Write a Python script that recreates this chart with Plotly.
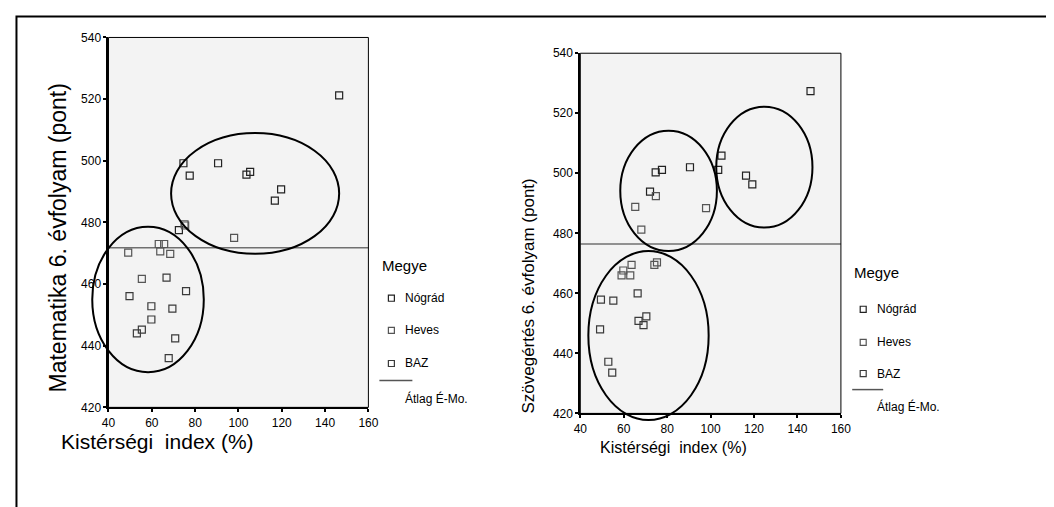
import plotly.graph_objects as go

# ---------------- data ----------------
counties = ["Nógrád", "Heves", "BAZ"]

# Plot 1: Matematika 6. évfolyam vs Kistérségi index
math_x_nograd = [146.5, 74.6, 77.5, 90.6, 103.7, 105.4, 119.7, 116.8, 72.5]
math_y_nograd = [521.2, 499.2, 495.2, 499.2, 495.5, 496.4, 490.7, 487.1, 477.5]
math_x_heves = [75.1, 75.4, 98.0, 49.1, 63.2, 65.7, 63.9, 68.5, 55.4]
math_y_heves = [479.4, 479.0, 475.0, 470.2, 473.0, 473.0, 470.6, 469.8, 461.7]
math_x_baz = [66.8, 49.7, 75.8, 59.8, 69.5, 59.8, 53.1, 55.4, 70.8, 67.8]
math_y_baz = [462.1, 456.1, 457.7, 452.8, 452.0, 448.5, 444.0, 445.2, 442.4, 436.0]
math_avg = 471.8

# Plot 2: Szövegértés 6. évfolyam vs Kistérségi index
read_x_nograd = [146.0, 105.0, 103.5, 90.5, 77.6, 74.7, 116.3, 119.2, 72.1]
read_y_nograd = [527.4, 505.9, 501.1, 502.0, 501.1, 500.3, 499.2, 496.3, 493.9]
read_x_heves = [74.8, 65.3, 97.9, 68.1, 63.6, 59.8, 59.0, 63.0, 74.1, 75.3]
read_y_heves = [492.4, 488.8, 488.4, 481.2, 469.5, 467.6, 466.0, 466.0, 469.5, 470.3]
read_x_baz = [66.4, 49.5, 55.2, 70.4, 66.8, 69.1, 49.1, 52.9, 54.7]
read_y_baz = [460.0, 457.9, 457.6, 452.3, 450.8, 449.4, 448.0, 437.2, 433.6]
read_avg = 476.4

x_ticks = [40, 60, 80, 100, 120, 140, 160]
y_ticks = [420, 440, 460, 480, 500, 520, 540]
x_range = [40, 160]
y_range = [420, 540]

# ellipses (x0, x1, y0, y1) in data units
math_ellipses = [(32.5, 84.0, 431.4, 478.6), (68.9, 146.5, 469.8, 509.0)]
read_ellipses = [(58.4, 102.9, 474.1, 514.2), (102.6, 146.9, 481.9, 522.2), (43.7, 99.1, 417.8, 474.1)]

legend_items = counties + ["Átlag É-Mo."]

# ---------------- figure ----------------
W, H = 1054, 507
FONT = "Liberation Sans, Arial, sans-serif"
marker_colors = {"Nógrád": "#222222", "Heves": "#555555", "BAZ": "#3a3a3a"}

fig = go.Figure()

def add_series(xs, ys, name, xa, ya):
    fig.add_trace(go.Scatter(
        x=xs, y=ys, mode="markers", name=name, showlegend=False,
        xaxis=xa, yaxis=ya,
        marker=dict(symbol="square-open", size=7, color=marker_colors[name],
                    line=dict(width=1.2, color=marker_colors[name])),
        cliponaxis=False,
    ))

add_series(math_x_nograd, math_y_nograd, "Nógrád", "x", "y")
add_series(math_x_heves, math_y_heves, "Heves", "x", "y")
add_series(math_x_baz, math_y_baz, "BAZ", "x", "y")
add_series(read_x_nograd, read_y_nograd, "Nógrád", "x2", "y2")
add_series(read_x_heves, read_y_heves, "Heves", "x2", "y2")
add_series(read_x_baz, read_y_baz, "BAZ", "x2", "y2")

# map target picture pixels to figure paper coordinates (compensates page offset/scale)
def px(v):
    return (1.016 * v - 14.7) / W

def py(v):
    return 1 - (1.0326 * v - 16.45) / H

dom1x = [px(108), px(368)]
dom1y = [py(406.7), py(38.3)]
dom2x = [px(580), px(840.7)]
dom2y = [py(412.7), py(54)]

axis_common = dict(
    showgrid=False, zeroline=False, showline=True, linecolor="black", linewidth=2,
    ticks="outside", ticklen=3, tickwidth=2, tickcolor="black",
    tickfont=dict(family=FONT, size=12, color="black"),
    mirror=False, fixedrange=True,
)

fig.update_layout(
    width=W, height=H, autosize=False,
    margin=dict(l=0, r=0, t=0, b=0),
    paper_bgcolor="white", plot_bgcolor="#f3f3f3",
    showlegend=False,
    xaxis=dict(domain=dom1x, range=x_range, tickvals=x_ticks, anchor="y", **axis_common),
    yaxis=dict(domain=dom1y, range=y_range, tickvals=y_ticks, anchor="x", **axis_common),
    xaxis2=dict(domain=dom2x, range=x_range, tickvals=x_ticks, anchor="y2", **axis_common),
    yaxis2=dict(domain=dom2y, range=y_range, tickvals=y_ticks, anchor="x2", **axis_common),
)

shapes = []
# outer frame
shapes.append(dict(type="rect", xref="paper", yref="paper", x0=1.5 / W, x1=1.05, y0=-0.05, y1=1 - 1.5 / H,
                   line=dict(color="black", width=2), fillcolor="rgba(0,0,0,0)", layer="below"))

for xa, ya, avg, ells in [("x", "y", math_avg, math_ellipses), ("x2", "y2", read_avg, read_ellipses)]:
    # plot border (thin top/right)
    shapes.append(dict(type="rect", xref=f"{xa} domain", yref=f"{ya} domain", x0=0, x1=1, y0=0, y1=1,
                       line=dict(color="black", width=1), layer="above"))
    # average reference line
    shapes.append(dict(type="line", xref=f"{xa} domain", yref=ya, x0=0, x1=1, y0=avg, y1=avg,
                       line=dict(color="#707070", width=1.5), layer="below"))
    for (x0, x1, y0, y1) in ells:
        shapes.append(dict(
            type="circle", xref=f"{xa} domain", yref=f"{ya} domain",
            x0=(x0 - x_range[0]) / (x_range[1] - x_range[0]),
            x1=(x1 - x_range[0]) / (x_range[1] - x_range[0]),
            y0=(y0 - y_range[0]) / (y_range[1] - y_range[0]),
            y1=(y1 - y_range[0]) / (y_range[1] - y_range[0]),
            line=dict(color="black", width=2), layer="above"))

annotations = []

def text(x, y, s, size, xanchor="left", angle=0):
    annotations.append(dict(x=px(x), y=py(y), xref="paper", yref="paper", text=s, showarrow=False,
                            xanchor=xanchor, yanchor="middle", textangle=angle,
                            font=dict(family=FONT, size=size, color="black")))

# axis titles
text(57, 238, "Matematika 6. évfolyam (pont)", 23, "center", -90)
text(157, 441, "Kistérségi&nbsp; index (%)", 21, "center")
text(528, 296, "Szövegértés 6. évfolyam (pont)", 17, "center", -90)
text(673, 447, "Kistérségi&nbsp; index (%)", 16, "center")

# legends (drawn manually to mimic SPSS layout)
def legend(xm, xt, ytitle, ys, yline, xl0, xl1, ytext):
    text(xm - 11, ytitle, "Megye", 15)
    for name, yy in zip(legend_items[:3], ys):
        shapes.append(dict(type="rect", xref="paper", yref="paper",
                           x0=px(xm - 3), x1=px(xm + 3), y0=py(yy + 3), y1=py(yy - 3),
                           line=dict(color=marker_colors[name], width=1.2)))
        text(xt, yy, name, 12)
    shapes.append(dict(type="line", xref="paper", yref="paper", x0=px(xl0), x1=px(xl1),
                       y0=py(yline), y1=py(yline), line=dict(color="#555555", width=1.5)))
    text(xt, ytext, legend_items[3], 12)

legend(391, 403, 265, [298, 330, 363], 380, 379, 412, 398)
legend(863, 875, 272, [309, 342, 373], 389, 852, 883, 406)

fig.update_layout(shapes=shapes, annotations=annotations)
fig.write_html("out.html")
